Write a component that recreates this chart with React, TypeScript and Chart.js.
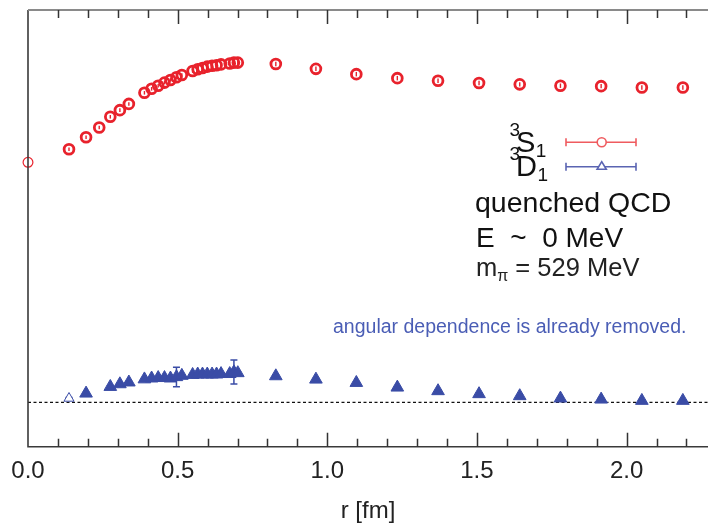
import React, { useEffect, useRef } from "react";
import { Chart, registerables } from "chart.js";

Chart.register(...registerables);

// ---- data ----
const rValues = [0, 0.137, 0.194, 0.238, 0.275, 0.307, 0.337, 0.389, 0.413, 0.435, 0.456, 0.476, 0.496, 0.514, 0.55, 0.567, 0.583, 0.599, 0.615, 0.63, 0.645, 0.674, 0.688, 0.701, 0.828, 0.962, 1.097, 1.234, 1.37, 1.507, 1.643, 1.779, 1.915, 2.051, 2.188];
const sWave = [0.5405, 0.57, 0.597, 0.619, 0.643, 0.658, 0.672, 0.697, 0.706, 0.713, 0.72, 0.726, 0.732, 0.737, 0.746, 0.75, 0.753, 0.756, 0.758, 0.759, 0.761, 0.763, 0.765, 0.765, 0.762, 0.751, 0.739, 0.73, 0.724, 0.719, 0.716, 0.713, 0.712, 0.709, 0.709];
const sErr = [0, 0.004, 0.004, 0.004, 0.004, 0.004, 0.004, 0.004, 0.004, 0.004, 0.004, 0.004, 0.004, 0.004, 0.004, 0.004, 0.004, 0.004, 0.004, 0.004, 0.004, 0.004, 0.004, 0.004, 0.005, 0.005, 0.005, 0.005, 0.005, 0.005, 0.005, 0.005, 0.005, 0.005, 0.005];
const dWave = [null, 0.009, 0.02, null, 0.035, 0.041, 0.045, 0.052, 0.054, 0.055, 0.055, 0.054, 0.057, 0.06, 0.062, 0.063, 0.063, 0.063, 0.063, 0.063, 0.064, 0.064, 0.068, 0.066, 0.059, 0.0515, 0.044, 0.0335, 0.0254, 0.0187, 0.0142, 0.0088, 0.0065, 0.0036, 0.0036];
const dErr = [0, 0.002, 0.002, 0, 0.002, 0.002, 0.002, 0.002, 0.002, 0.002, 0.002, 0.002, 0.022, 0.002, 0.002, 0.002, 0.002, 0.002, 0.002, 0.002, 0.002, 0.002, 0.027, 0.002, 0.002, 0.002, 0.002, 0.002, 0.002, 0.002, 0.002, 0.002, 0.002, 0.002, 0.002];

const xMin = 0;
const xMax = 2.272;
const yMin = -0.1;
const yMax = 0.8835;
const xTitle = "r [fm]";

const legendS = { sup: "3", main: "S", sub: "1" };
const legendD = { sup: "3", main: "D", sub: "1" };
const infoLines = ["quenched QCD", "E  ~  0 MeV"];
const massLabel = { m: "m", sub: "π", rest: " = 529 MeV" };
const note = "angular dependence is already removed.";

const FONT = "'Liberation Sans', Arial, Helvetica, sans-serif";
const RED = "#e8222c";
const BLUE = "#3a4ca6";
const RED_LIGHT = "#ef5b5f";
const BLUE_LIGHT = "#5a64b2";

function toPoints(vals: (number | null)[]) {
  const pts: { x: number; y: number; i: number }[] = [];
  vals.forEach((v, i) => {
    if (v !== null) pts.push({ x: rValues[i], y: v, i });
  });
  return pts;
}

const sPoints = toPoints(sWave);
const dPoints = toPoints(dWave);

const decorPlugin = {
  id: "decor",
  beforeDatasetsDraw(chart: any) {
    const { ctx, chartArea, scales } = chart;
    const xs = scales.x;
    const ys = scales.y;
    ctx.save();
    ctx.strokeStyle = "#111";
    ctx.lineWidth = 1.2;
    ctx.setLineDash([3, 2.5]);
    const y0 = ys.getPixelForValue(0);
    ctx.beginPath();
    ctx.moveTo(chartArea.left, y0);
    ctx.lineTo(chartArea.right, y0);
    ctx.stroke();
    ctx.setLineDash([]);
    const drawErr = (pts: any[], errs: number[], color: string, cap: number, lw: number) => {
      ctx.strokeStyle = color;
      ctx.lineWidth = lw;
      pts.forEach((p) => {
        const e = errs[p.i];
        if (!e) return;
        const px = xs.getPixelForValue(p.x);
        const yt = ys.getPixelForValue(p.y + e);
        const yb = ys.getPixelForValue(p.y - e);
        ctx.beginPath();
        ctx.moveTo(px, yt);
        ctx.lineTo(px, yb);
        ctx.moveTo(px - cap, yt);
        ctx.lineTo(px + cap, yt);
        ctx.moveTo(px - cap, yb);
        ctx.lineTo(px + cap, yb);
        ctx.stroke();
      });
    };
    drawErr(dPoints, dErr, BLUE, 3.5, 1.5);
    ctx.restore();
  },
  afterDatasetsDraw(chart: any) {
    const { ctx, chartArea, scales } = chart;
    const xs = scales.x;
    const ys = scales.y;
    ctx.save();
    ctx.strokeStyle = RED;
    ctx.lineWidth = 1.4;
    sPoints.forEach((p) => {
      const e = sErr[p.i];
      if (!e) return;
      const px = xs.getPixelForValue(p.x);
      ctx.beginPath();
      ctx.moveTo(px, ys.getPixelForValue(p.y + e));
      ctx.lineTo(px, ys.getPixelForValue(p.y - e));
      ctx.stroke();
    });
    ctx.lineWidth = 1.6;
    ctx.strokeStyle = "#3a3a3a";
    ctx.beginPath();
    ctx.moveTo(chartArea.left, chartArea.top);
    ctx.lineTo(chartArea.left, chartArea.bottom);
    ctx.lineTo(chartArea.right, chartArea.bottom);
    ctx.stroke();
    ctx.strokeStyle = "#8a8a8a";
    ctx.lineWidth = 2;
    ctx.beginPath();
    ctx.moveTo(chartArea.left, chartArea.top);
    ctx.lineTo(chartArea.right, chartArea.top);
    ctx.stroke();
    ctx.strokeStyle = "#333";
    ctx.lineWidth = 1.5;
    xs.ticks.forEach((t: any) => {
      const v = t.value;
      if (v <= xMin + 1e-9) return;
      const major = Math.abs(v * 2 - Math.round(v * 2)) < 1e-6;
      const len = major ? 14 : 8;
      const px = Math.round(xs.getPixelForValue(v)) + 0.5;
      ctx.beginPath();
      ctx.moveTo(px, chartArea.bottom);
      ctx.lineTo(px, chartArea.bottom - len);
      ctx.moveTo(px, chartArea.top);
      ctx.lineTo(px, chartArea.top + len);
      ctx.stroke();
    });
    ctx.restore();

    // legend
    ctx.save();
    const lx1 = 566, lx2 = 636, lm = 601.7;
    const ly1 = 142.3, ly2 = 166.7;
    const drawLegLine = (y: number, color: string) => {
      ctx.strokeStyle = color;
      ctx.lineWidth = 1.6;
      ctx.beginPath();
      ctx.moveTo(lx1, y);
      ctx.lineTo(lx2, y);
      ctx.moveTo(lx1, y - 4);
      ctx.lineTo(lx1, y + 4);
      ctx.moveTo(lx2, y - 4);
      ctx.lineTo(lx2, y + 4);
      ctx.stroke();
    };
    drawLegLine(ly1, RED_LIGHT);
    ctx.fillStyle = "#fff";
    ctx.beginPath();
    ctx.arc(lm, ly1, 4.5, 0, Math.PI * 2);
    ctx.fill();
    ctx.stroke();
    drawLegLine(ly2, BLUE_LIGHT);
    ctx.beginPath();
    ctx.moveTo(lm, ly2 - 5);
    ctx.lineTo(lm + 4.6, ly2 + 2.6);
    ctx.lineTo(lm - 4.6, ly2 + 2.6);
    ctx.closePath();
    ctx.fillStyle = "#fff";
    ctx.fill();
    ctx.stroke();

    ctx.fillStyle = "#111";
    ctx.textBaseline = "alphabetic";
    ctx.textAlign = "left";
    const drawSym = (s: any, x: number, yb: number) => {
      ctx.font = `19px ${FONT}`;
      ctx.fillText(s.sup, x, yb - 15.5);
      ctx.font = `29px ${FONT}`;
      ctx.fillText(s.main, x + 6.5, yb);
      const w = ctx.measureText(s.main).width;
      ctx.font = `19px ${FONT}`;
      ctx.fillText(s.sub, x + 6.5 + w + 0.5, yb + 5);
    };
    drawSym(legendS, 509.5, 151.7);
    drawSym(legendD, 509.5, 175.5);

    ctx.font = `28.5px ${FONT}`;
    ctx.fillText(infoLines[0], 475, 212);
    ctx.font = `28px ${FONT}`;
    ctx.fillText(infoLines[1], 476, 247);
    ctx.font = `25.5px ${FONT}`;
    ctx.fillStyle = "#222";
    ctx.fillText(massLabel.m, 476, 276);
    const mw = ctx.measureText(massLabel.m).width;
    ctx.font = `16px ${FONT}`;
    ctx.fillText(massLabel.sub, 476 + mw, 281);
    const pw = ctx.measureText(massLabel.sub).width;
    ctx.font = `25.5px ${FONT}`;
    ctx.fillText(massLabel.rest, 476 + mw + pw, 276);

    ctx.font = `19.5px ${FONT}`;
    ctx.fillStyle = "#4a5db5";
    ctx.fillText(note, 333, 333);
    ctx.restore();
  },
};

export default function App() {
  const ref = useRef<HTMLCanvasElement | null>(null);
  useEffect(() => {
    if (!ref.current) return;
    const chart = new Chart(ref.current, {
      type: "scatter",
      data: {
        datasets: [
          {
            label: "3S1",
            data: sPoints,
            pointStyle: "circle",
            pointRadius: 4.9,
            pointBorderWidth: (c: any) => (c.dataIndex === 0 ? 1.2 : 2.8),
            pointBorderColor: RED,
            pointBackgroundColor: "rgba(0,0,0,0)",
            showLine: false,
            clip: false as any,
          },
          {
            label: "3D1",
            data: dPoints,
            pointStyle: "triangle",
            pointRadius: (c: any) => (c.dataIndex === 0 ? 5.8 : 7.3),
            pointBorderWidth: 1,
            pointBorderColor: BLUE,
            pointBackgroundColor: (c: any) => (c.dataIndex === 0 ? "#fff" : BLUE),
            showLine: false,
            clip: false as any,
          },
        ],
      },
      options: {
        responsive: false,
        animation: false,
        layout: { autoPadding: false, padding: { left: 28, right: 0, top: 10, bottom: -0.5 } },
        plugins: { legend: { display: false }, tooltip: { enabled: false } },
        scales: {
          x: {
            type: "linear",
            min: xMin,
            max: xMax,
            afterFit: (s: any) => {
              s.paddingRight = 0;
              s.paddingLeft = 0;
            },
            grid: { display: false, drawTicks: false },
            border: { display: false },
            ticks: {
              stepSize: 0.1,
              includeBounds: false,
              padding: 10.6,
              autoSkip: false,
              maxRotation: 0,
              color: "#222",
              font: { family: FONT, size: 24 },
              callback: (v: any) => {
                const n = Number(v);
                return Math.abs(n * 2 - Math.round(n * 2)) < 1e-6 ? n.toFixed(1) : "";
              },
            },
            title: {
              display: true,
              text: xTitle,
              color: "#222",
              font: { family: FONT, size: 24 },
              padding: { top: 0, bottom: 0 },
            },
          },
          y: {
            type: "linear",
            min: yMin,
            max: yMax,
            display: false,
          },
        },
      },
      plugins: [decorPlugin],
    });
    return () => chart.destroy();
  }, []);
  return (
    <div style={{ position: "fixed", left: 0, top: 0, width: 708, height: 525, background: "#fff" }}>
      <canvas ref={ref} width={708} height={525} />
    </div>
  );
}
